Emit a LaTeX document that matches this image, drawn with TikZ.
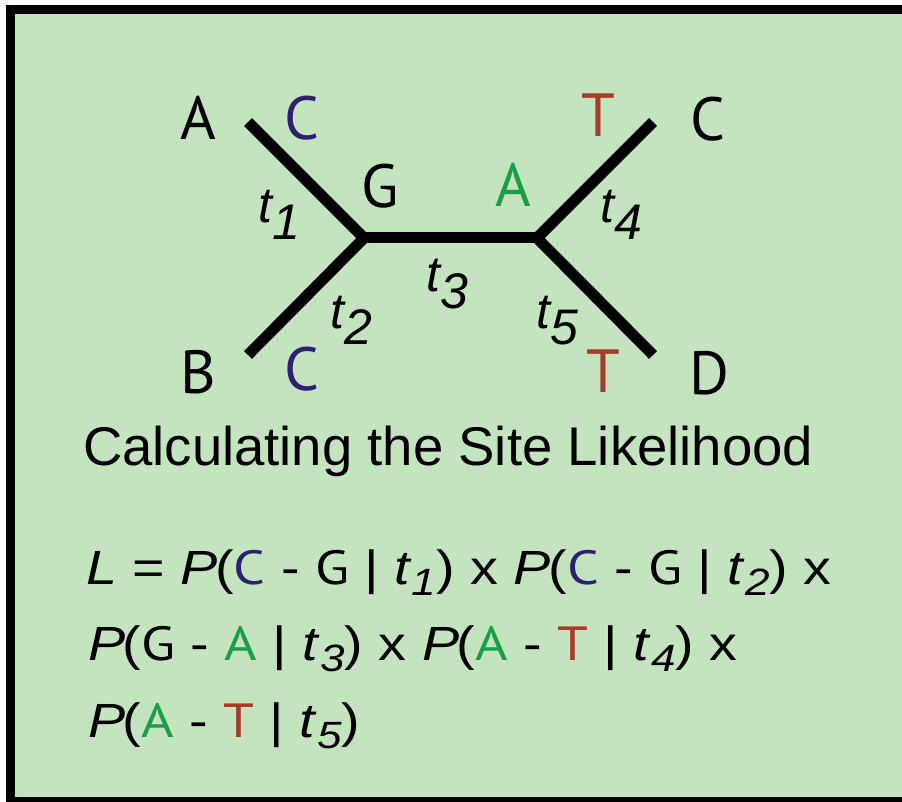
\documentclass[tikz,border=0pt]{standalone}
\usepackage{fontspec}
\setmainfont{Liberation Sans}
\newfontfamily\nucfont{PT Sans}
\usepackage{xcolor}
\usetikzlibrary{positioning}

\definecolor{bgpanel}{RGB}{196,228,191}
\definecolor{nucblue}{RGB}{46,32,112}
\definecolor{nucgreen}{RGB}{28,158,72}
\definecolor{nucred}{RGB}{168,58,40}

\newcommand\nuc[2]{{\color{#1}\nucfont #2}}
\newcommand\tsub[1]{t\kern1pt\raisebox{-17pt}{#1}}
\newcommand\esub[1]{\raisebox{-11pt}{\fontsize{38}{38}\selectfont\itshape #1}}

\begin{document}
\begin{tikzpicture}[x=1pt, y=-1pt,
  every node/.style={inner sep=0pt, outer sep=0pt},
  tip/.style={anchor=base, font=\nucfont\fontsize{61}{61}\selectfont},
  tl/.style={anchor=base west, font=\itshape\fontsize{50}{50}\selectfont},
  branch/.style={line width=11pt, line join=miter},
  eq/.style={anchor=base west, font=\fontsize{48}{48}\selectfont},
]
\useasboundingbox (0,0) rectangle (902,802);
\fill[white] (0,0) rectangle (902,802);
\fill[black] (6,5) rectangle (902,802);
\fill[bgpanel] (15,14) rectangle (902,797);

% tree
\coordinate (a)  at (248,122);
\coordinate (b)  at (248,355);
\coordinate (ul) at (364,238);
\coordinate (ur) at (537,238);
\coordinate (c)  at (653,122);
\coordinate (d)  at (653,355);
\draw[branch] (a) -- (ul) -- (b);
\draw[branch] (ul) -- (ur);
\draw[branch] (c) -- (ur) -- (d);

% taxa and states
\node[tip] (lA) at (198,140) {A};
\node[tip] (sA) at (302,140) {\nuc{nucblue}{C}};
\node[tip] (sG) at (380,208) {\nuc{black}{G}};
\node[tip] (sE) at (513,207) {\nuc{nucgreen}{A}};
\node[tip] (sC) at (598,137) {\nuc{nucred}{T}};
\node[tip] (lC) at (708,141) {C};
\node[tip] (lB) at (198,393) {B};
\node[tip] (sB) at (302,390) {\nuc{nucblue}{C}};
\node[tip] (sD) at (603,392) {\nuc{nucred}{T}};
\node[tip] (lD) at (709,394) {D};

% branch lengths
\node[tl] (t1) at (258,223) {\tsub{1}};
\node[tl] (t2) at (330,328) {\tsub{2}};
\node[tl] (t3) at (426,292) {\tsub{3}};
\node[tl] (t4) at (600,223) {\tsub{4}};
\node[tl] (t5) at (536,328) {\tsub{5}};

\node[anchor=base west, font=\fontsize{54.5}{54.5}\selectfont] (ttl) at (83,465) {Calculating the Site Likelihood};

% likelihood
\node[eq] (e1) at (86,584) {\scalebox{1.16}[1]{\textit{L} = \textit{P}\kern-2pt(\nuc{nucblue}{C} - \nuc{black}{G} | \textit{t}\esub{1}) x \textit{P}\kern-2pt(\nuc{nucblue}{C} - \nuc{black}{G} | \textit{t}\esub{2}) x}};
\node[eq] (e2) at (88,660) {\scalebox{1.16}[1]{\textit{P}\kern-2pt(\nuc{black}{G} - \nuc{nucgreen}{A} | \textit{t}\esub{3}) x \textit{P}\kern-2pt(\nuc{nucgreen}{A} - \nuc{nucred}{T} | \textit{t}\esub{4}) x}};
\node[eq] (e3) at (88,737) {\scalebox{1.16}[1]{\textit{P}\kern-2pt(\nuc{nucgreen}{A} - \nuc{nucred}{T} | \textit{t}\esub{5})}};
\end{tikzpicture}
\end{document}
